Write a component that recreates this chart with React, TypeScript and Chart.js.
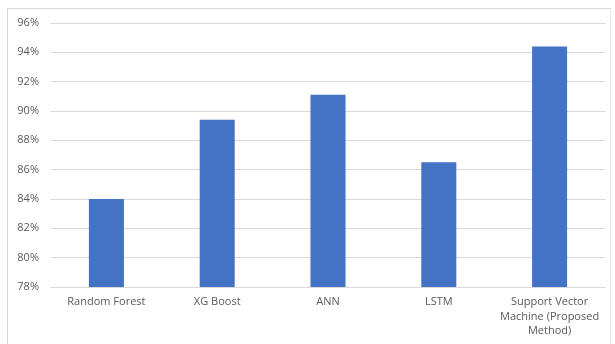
import React, { useEffect, useRef } from "react";
import { Chart, registerables } from "chart.js";

Chart.register(...registerables);

const categories: (string | string[])[] = [
  "Random Forest",
  "XG Boost",
  "ANN",
  "LSTM",
  ["Support Vector", "Machine (Proposed", "Method)"],
];
const accuracy = [84.0, 89.4, 91.1, 86.5, 94.4];
const yMin = 78;
const yMax = 96;
const yStep = 2;

export default function App() {
  const ref = useRef<HTMLCanvasElement | null>(null);

  useEffect(() => {
    document.body.style.margin = "0";
    const ctx = ref.current;
    if (!ctx) return;
    const chart = new Chart(ctx, {
      type: "bar",
      data: {
        labels: categories,
        datasets: [
          {
            data: accuracy,
            backgroundColor: "#4472C4",
            borderWidth: 0,
            barPercentage: 0.316,
            categoryPercentage: 1,
          },
        ],
      },
      options: {
        animation: false,
        responsive: false,
        maintainAspectRatio: false,
        layout: { padding: { top: 23, right: 10, left: 0, bottom: 0 } },
        plugins: {
          legend: { display: false },
          tooltip: { enabled: false },
        },
        scales: {
          x: {
            grid: { display: false, drawTicks: false },
            border: { display: false },
            ticks: {
              color: "#595959",
              font: { family: "Open Sans", size: 11, lineHeight: 1.32 },
              padding: 8,
              maxRotation: 0,
              autoSkip: false,
            },
            afterFit: (scale: any) => {
              scale.height = 57;
            },
          },
          y: {
            min: yMin,
            max: yMax,
            grid: { color: "#d9d9d9", lineWidth: 1, drawTicks: false },
            border: { display: false },
            ticks: {
              stepSize: yStep,
              color: "#595959",
              font: { family: "Open Sans", size: 11 },
              padding: 12,
              callback: (v: any) => `${v}%`,
            },
            afterFit: (scale: any) => {
              scale.width = 51;
            },
          },
        },
      },
    });
    return () => chart.destroy();
  }, []);

  return (
    <div style={{ position: "relative", width: 615, height: 344 }}>
      <div
        style={{
          position: "absolute",
          left: 7,
          top: 8,
          width: 604,
          height: 340,
          borderLeft: "1px solid #d9d9d9",
          borderTop: "1px solid #d9d9d9",
          borderRight: "1px solid #e6e6e6",
          boxSizing: "border-box",
        }}
      />
      <canvas
        ref={ref}
        width={615}
        height={344}
        style={{ position: "absolute", left: 0, top: 0, width: 615, height: 344 }}
      />
    </div>
  );
}
